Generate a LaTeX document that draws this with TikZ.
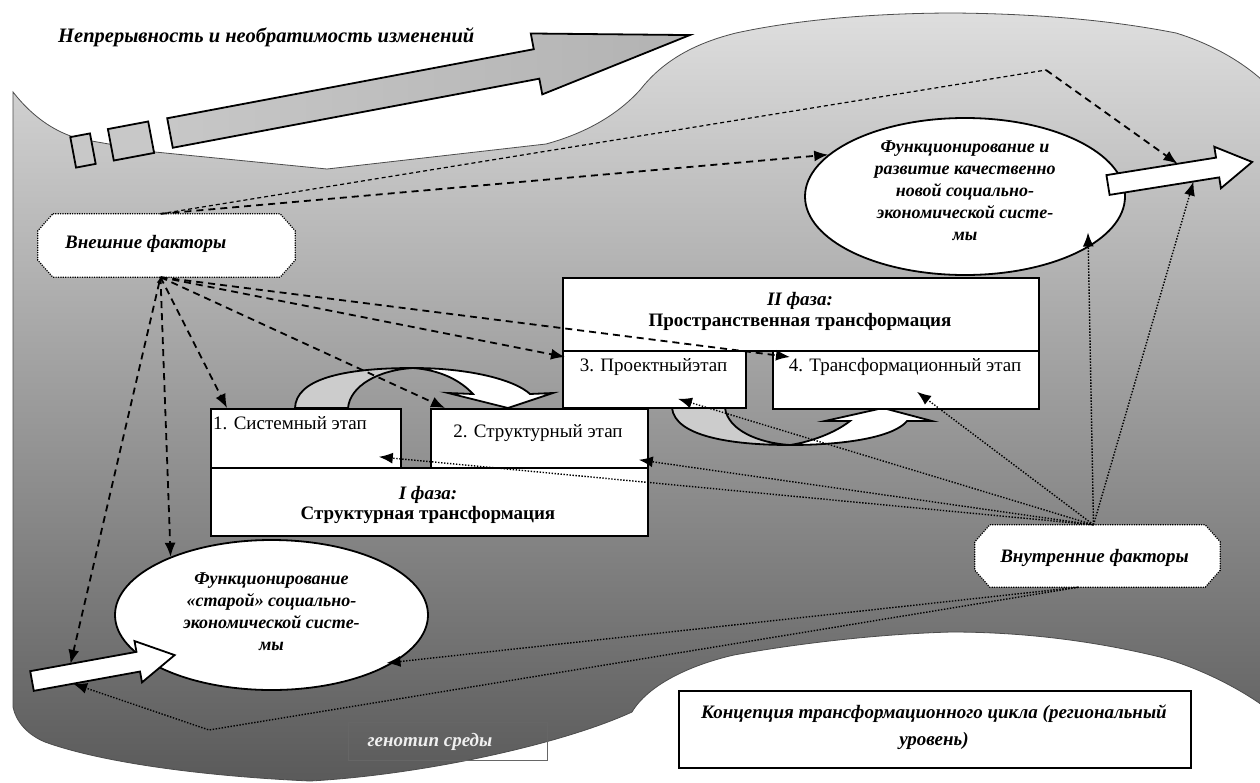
\documentclass[tikz,border=0pt]{standalone}
\usepackage{fontspec}
\setmainfont{Liberation Serif}
\usetikzlibrary{arrows.meta,shapes.geometric,calc}
\definecolor{bgtop}{RGB}{222,222,222}
\definecolor{bgbot}{RGB}{90,90,90}
\definecolor{rectgray}{RGB}{200,200,200}
\definecolor{cresc}{RGB}{204,204,204}
\newcommand{\fsz}{\fontsize{19}{20}\selectfont}
\newcommand{\fse}{\fontsize{18}{22}\selectfont}
\begin{document}
\begin{tikzpicture}[x=1pt,y=-1pt,
  box/.style={draw, line width=1.8pt, fill=white, inner sep=0pt, anchor=north west},
  txt/.style={inner sep=0pt, font=\fsz},
  bi/.style={inner sep=0pt, font=\fsz\bfseries\itshape},
  dsh/.style={line width=1.8pt, dash pattern=on 7pt off 5pt},
  fdsh/.style={line width=1.2pt, dash pattern=on 4pt off 3pt},
  dtt/.style={line width=1.4pt, dash pattern=on 1.4pt off 1.6pt},
  tip/.style={-{Latex[length=14pt,width=11pt]}},
  blk/.style={draw, line width=1.8pt, line join=miter},
  octo/.style={draw, line width=1.2pt, dash pattern=on 1.2pt off 1.2pt, fill=white}
]
\useasboundingbox (0,0) rectangle (1260,782);
\fill[white] (0,0) rectangle (1260,782);

% background environment
\shadedraw[top color=bgtop, bottom color=bgbot, draw=black!70, line width=0.8pt]
 (13,92) .. controls (35,120) and (58,133) .. (80,139) -- (155,152) -- (327,169) -- (546,144)
 .. controls (590,132) and (620,112) .. (640,90) .. controls (662,62) and (692,44) .. (736,33)
 .. controls (800,19) and (880,13) .. (955,13) .. controls (1050,14) and (1120,22) .. (1176,33)
 .. controls (1212,44) and (1242,62) .. (1262,80) -- (1262,705)
 .. controls (1238,688) and (1200,668) .. (1160,657) .. controls (1090,640) and (1020,632) .. (951,632)
 .. controls (880,634) and (800,643) .. (734,655) .. controls (690,665) and (648,685) .. (632,712)
 .. controls (560,745) and (420,775) .. (310,781) .. controls (200,776) and (100,762) .. (45,742)
 .. controls (28,735) and (16,722) .. (13,707) -- cycle;

% title
\node[inner sep=0pt, font=\fontsize{20.5}{22}\selectfont\bfseries\itshape, anchor=base west] (title) at (58,42) {Непрерывность и необратимость изменений};

% big arrow and small rectangles
\begin{scope}[shift={(170,133)}, rotate=10.67]
  \shadedraw[left color=black!22, middle color=black!5, right color=black!30, blk]
   (0,-15) -- (373,-15) -- (373,-31) -- (529,0) -- (373,31) -- (373,15) -- (0,15) -- cycle;
\end{scope}
\begin{scope}[shift={(83,150.5)}, rotate=10.67]
  \draw[blk, fill=rectgray] (-10,-15.5) rectangle (10,15.5);
\end{scope}
\begin{scope}[shift={(131,141)}, rotate=10.67]
  \draw[blk, fill=rectgray] (-20.5,-16) rectangle (20.5,16);
\end{scope}

% curved block arrow (upper)
\draw[blk, fill=cresc] (295,408) .. controls (296,380) and (340,368) .. (413,368)
  .. controls (378,370) and (350,386) .. (348,408) -- cycle;
\draw[blk, fill=white] (413,368) .. controls (470,368) and (515,380) .. (530,394) -- (553,393)
  -- (508,408) -- (448,393) -- (473,394) .. controls (460,380) and (440,370) .. (413,368) -- cycle;
% curved block arrow (lower)
\draw[blk, fill=cresc] (672,408) .. controls (675,436) and (730,445) .. (790,445)
  .. controls (758,443) and (728,430) .. (725,408) -- cycle;
\draw[blk, fill=white] (790,445) .. controls (850,445) and (895,436) .. (907,421) -- (932,421)
  -- (883,408) -- (825,421) -- (850,421) .. controls (835,433) and (810,442) .. (790,445) -- cycle;

% boxes
\node[box, minimum width=476pt, minimum height=73pt] (ph2) at (562,277) {};
\node[box, minimum width=183pt, minimum height=57pt] (b3) at (562,350) {};
\node[box, minimum width=266pt, minimum height=58pt] (b4) at (772,350) {};
\node[box, minimum width=190pt, minimum height=59pt] (b1) at (210,408) {};
\node[box, minimum width=217pt, minimum height=59pt] (b2) at (430,408) {};
\node[box, minimum width=437pt, minimum height=68pt] (ph1) at (210,467) {};

\node[bi, anchor=base] (ph2a) at (800,305) {II фаза:};
\node[txt, font=\fsz\bfseries, anchor=base] (ph2b) at (800,326) {Пространственная трансформация};
\node[txt, anchor=base] (b3t) at (653.5,371) {3. Проектныйэтап};
\node[txt, anchor=base] (b4t) at (905,371) {4. Трансформационный этап};
\node[txt, anchor=base west] (b1t) at (213,429) {1. Системный этап};
\node[txt, anchor=base] (b2t) at (538,437) {2. Структурный этап};
\node[bi, anchor=base] (ph1a) at (428,499) {I фаза:};
\node[txt, font=\fsz\bfseries, anchor=base] (ph1b) at (428,519) {Структурная трансформация};

% ellipses
\node[ellipse, draw, line width=1.8pt, fill=white, minimum width=320pt, minimum height=157pt, inner sep=0pt] (ellTR) at (965,196.5) {};
\node[inner sep=0pt, font=\fse\bfseries\itshape, align=center] (ellTRt) at (965,191) {Функционирование и\\развитие качественно\\новой социально-\\экономической систе-\\мы};
\node[ellipse, draw, line width=1.8pt, fill=white, minimum width=313pt, minimum height=150pt, inner sep=0pt] (old) at (271.5,615) {};
\node[inner sep=0pt, font=\fse\bfseries\itshape, align=center] (oldt) at (271.5,612) {Функционирование\\«старой» социально-\\экономической систе-\\мы};

% white arrows
\begin{scope}[shift={(1108,185)}, rotate=9.07]
  \draw[blk, fill=white] (0,-10) -- (111,-10) -- (111,-21) -- (146,0) -- (111,21) -- (111,10) -- (0,10) -- cycle;
  \coordinate (rTop) at (72,-10);
  \coordinate (rBot) at (85,10);
\end{scope}
\begin{scope}[shift={(32,681)}, rotate=10.3]
  \draw[blk, fill=white] (0,-10) -- (108,-10) -- (108,-21) -- (145,0) -- (108,21) -- (108,10) -- (0,10) -- cycle;
  \coordinate (lTop) at (41,-10);
  \coordinate (lBot) at (40,10);
\end{scope}

% factor boxes
\node[minimum width=257pt, minimum height=63pt, inner sep=0pt] (ext) at (166.5,245.5) {};
\draw[octo] ($(ext.north west)+(15,0)$) -- ($(ext.north east)+(-15,0)$) -- ($(ext.north east)+(0,17)$)
  -- ($(ext.south east)+(0,-17)$) -- ($(ext.south east)+(-15,0)$) -- ($(ext.south west)+(15,0)$)
  -- ($(ext.south west)+(0,-17)$) -- ($(ext.north west)+(0,17)$) -- cycle;
\node[bi, anchor=base west] (extt) at (65,248) {Внешние факторы};

\node[minimum width=245pt, minimum height=62pt, inner sep=0pt] (int) at (1097.5,556) {};
\draw[octo] ($(int.north west)+(15,0)$) -- ($(int.north east)+(-15,0)$) -- ($(int.north east)+(0,17)$)
  -- ($(int.south east)+(0,-17)$) -- ($(int.south east)+(-15,0)$) -- ($(int.south west)+(15,0)$)
  -- ($(int.south west)+(0,-17)$) -- ($(int.north west)+(0,17)$) -- cycle;
\node[bi, anchor=base] (intt) at (1094.5,562) {Внутренние факторы};

% bottom boxes
\node[box, draw=black!60, line width=0.8pt, fill=none, minimum width=199pt, minimum height=38pt] (gen) at (348,722) {};
\node[bi, text=black!6] (gent) at (430,742) {генотип среды};
\node[box, line width=2.4pt, minimum width=512pt, minimum height=77pt] (conc) at (678,690) {};
\node[bi, align=center, font=\fontsize{19}{27}\selectfont\bfseries\itshape] (conct) at (934,727) {Концепция трансформационного цикла (региональный\\уровень)};

% external factor connectors
\coordinate (eb) at ($(ext.south)+(-6,0)$);
\coordinate (et) at ($(ext.north)+(-6,0)$);
\coordinate (kink) at (1046,70);
\draw[dsh, {Latex[length=6pt,width=5pt]}-{Latex[length=14pt,width=11pt]}] (eb) -- (lTop);
\draw[dsh, tip] (eb) -- (old.150);
\draw[dsh, tip] (eb) -- ($(b1.north west)+(17,0)$);
\draw[dsh, tip] (eb) -- ($(b2.north west)+(15,0)$);
\draw[dsh, tip] (eb) -- ($(b3.north west)+(3,7)$);
\draw[dsh, tip] (eb) -- ($(b4.north west)+(18,7)$);
\draw[dsh, tip] (et) -- (ellTR.163);
\draw[fdsh] (et) -- (kink);
\draw[dsh, tip] (kink) -- (rTop);

% internal factor connectors
\coordinate (it) at ($(int.north)+(-4,0)$);
\coordinate (ib) at ($(int.south)+(-19,0)$);
\coordinate (corner) at (209,730);
\draw[dtt, tip] (it) -- ($(b4.south west)+(145,-18)$);
\draw[dtt, tip] (it) -- ($(b3.south west)+(116,-10)$);
\draw[dtt, tip] (it) -- ($(b2.south east)+(-10,-9)$);
\draw[dtt, tip] (it) -- ($(b1.south east)+(-23,-12)$);
\draw[dtt, tip] (it) -- ($(ellTR.center)+(123,36)$);
\draw[dtt, tip] (it) -- (rBot);
\draw[dtt, tip] (ib) -- ($(old.center)+(115,48)$);
\draw[dtt, tip] (ib) -- (corner) -- (lBot);
\end{tikzpicture}
\end{document}
